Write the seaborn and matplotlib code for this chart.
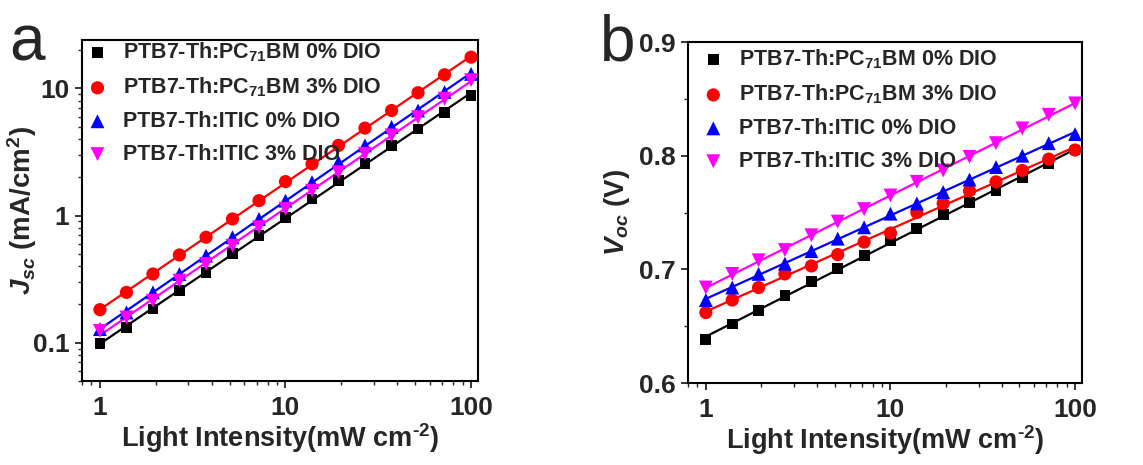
import numpy as np
import pandas as pd
import matplotlib
matplotlib.use('Agg')
import matplotlib.pyplot as plt
import seaborn as sns
from matplotlib.ticker import FixedLocator, FixedFormatter, LogLocator, MultipleLocator, NullFormatter

# light intensity (mW cm-2), same for every device
intensity = [1, 1.39, 1.93, 2.68, 3.73, 5.18, 7.2, 10, 13.9, 19.3, 26.8, 37.3, 51.8, 72, 100]

# Jsc (mA/cm2)
jsc_pc_0 = [0.098, 0.132, 0.184, 0.257, 0.358, 0.50, 0.70, 0.97, 1.35, 1.89, 2.55, 3.56, 4.8, 6.5, 8.8]
jsc_pc_3 = [0.182, 0.249, 0.347, 0.49, 0.675, 0.94, 1.31, 1.85, 2.55, 3.56, 4.87, 6.7, 9.25, 12.8, 17.6]
jsc_itic_0 = [0.128, 0.173, 0.249, 0.347, 0.484, 0.675, 0.94, 1.31, 1.83, 2.63, 3.56, 4.97, 6.7, 9.35, 13.0]
jsc_itic_3 = [0.124, 0.158, 0.214, 0.308, 0.417, 0.58, 0.81, 1.13, 1.57, 2.19, 3.06, 4.27, 5.94, 8.3, 11.6]

# Voc (V)
voc_pc_0 = [0.638, 0.652, 0.664, 0.677, 0.689, 0.701, 0.712, 0.725, 0.736, 0.748, 0.759, 0.769, 0.781, 0.793, 0.805]
voc_pc_3 = [0.662, 0.673, 0.684, 0.696, 0.703, 0.713, 0.724, 0.732, 0.750, 0.758, 0.769, 0.777, 0.787, 0.797, 0.805]
voc_itic_0 = [0.673, 0.684, 0.696, 0.705, 0.716, 0.727, 0.737, 0.749, 0.758, 0.768, 0.779, 0.790, 0.800, 0.811, 0.819]
voc_itic_3 = [0.684, 0.696, 0.708, 0.717, 0.730, 0.742, 0.753, 0.765, 0.777, 0.787, 0.799, 0.811, 0.824, 0.836, 0.846]

labels = [r'PTB7-Th:PC$_{71}$BM 0% DIO',
          r'PTB7-Th:PC$_{71}$BM 3% DIO',
          'PTB7-Th:ITIC 0% DIO',
          'PTB7-Th:ITIC 3% DIO']
colors = ['black', '#ff0000', '#0000ff', '#ff00ff']
markers = ['s', 'o', '^', 'v']
msizes = [60, 90, 100, 100]

jsc_ticks = [0.1, 1, 10]
jsc_ticklabels = ['0.1', '1', '10']
x_ticks = [1, 10, 100]
x_ticklabels = ['1', '10', '100']
voc_ticks = [0.6, 0.7, 0.8, 0.9]
voc_ticklabels = ['0.6', '0.7', '0.8', '0.9']

sns.set_style('ticks')
plt.rcParams['font.family'] = ['Liberation Sans', 'DejaVu Sans']
plt.rcParams['font.weight'] = 'bold'
plt.rcParams['mathtext.fontset'] = 'custom'
plt.rcParams['mathtext.rm'] = 'Liberation Sans:bold'
plt.rcParams['mathtext.bf'] = 'Liberation Sans:bold'
plt.rcParams['mathtext.it'] = 'Liberation Sans:italic:bold'
plt.rcParams['mathtext.default'] = 'bf'

fig = plt.figure(figsize=(11.43, 4.65), dpi=100)
ax1 = fig.add_axes([0.0717, 0.1806, 0.3465, 0.7333])
ax2 = fig.add_axes([0.6019, 0.1763, 0.3447, 0.7333])


def draw(ax, series, loglog):
    lx = np.log10(intensity)
    for ys, lab, c, m, s in zip(series, labels, colors, markers, msizes):
        ys = np.array(ys)
        if loglog:
            k, b = np.polyfit(lx, np.log10(ys), 1)
            fit = 10 ** (k * lx + b)
        else:
            k, b = np.polyfit(lx, ys, 1)
            fit = k * lx + b
        df = pd.DataFrame({'x': intensity, 'y': ys, 'fit': fit})
        sns.lineplot(data=df, x='x', y='fit', ax=ax, color=c, lw=1.6, legend=False)
        sns.scatterplot(data=df, x='x', y='y', ax=ax, color=c, marker=m, s=s,
                        edgecolor='none', label=lab, zorder=3)
    ax.set_xscale('log')
    ax.set_xlim(0.8, 109)
    ax.xaxis.set_major_locator(FixedLocator(x_ticks))
    ax.xaxis.set_major_formatter(FixedFormatter(x_ticklabels))
    ax.xaxis.set_minor_locator(LogLocator(base=10, subs=np.arange(2, 10)))
    ax.xaxis.set_minor_formatter(NullFormatter())
    ax.set_xlabel(r'Light Intensity(mW cm$^{\text{-2}}$)', fontsize=19.5, fontweight='bold', labelpad=1)
    ax.tick_params(axis='both', which='major', direction='out', length=5, width=1.3,
                   labelsize=19, pad=4, top=False, right=False)
    ax.tick_params(axis='both', which='minor', direction='out', length=3, width=1.0,
                   top=False, right=False)
    ax.tick_params(axis='x', which='major', pad=6)
    for sp in ax.spines.values():
        sp.set_linewidth(1.5)
        sp.set_color('black')
    for t in ax.get_xticklabels() + ax.get_yticklabels():
        t.set_fontweight('bold')


draw(ax1, [jsc_pc_0, jsc_pc_3, jsc_itic_0, jsc_itic_3], True)
ax1.set_yscale('log')
ax1.set_ylim(0.05, 24)
ax1.yaxis.set_major_locator(FixedLocator(jsc_ticks))
ax1.yaxis.set_major_formatter(FixedFormatter(jsc_ticklabels))
ax1.yaxis.set_minor_locator(LogLocator(base=10, subs=np.arange(2, 10)))
ax1.yaxis.set_minor_formatter(NullFormatter())
ax1.set_ylabel(r'$\mathit{J}_{\mathit{sc}}$ (mA/cm$^{\mathbf{2}}$)', fontsize=20, fontweight='bold')
ax1.yaxis.set_label_coords(-0.108, 0.5)
for t in ax1.get_yticklabels():
    t.set_fontweight('bold')
ax1.legend(loc='upper left', bbox_to_anchor=(0.012, 1.0), frameon=False, fontsize=15.5,
           handletextpad=0.7, handlelength=1.0, labelspacing=0.55, borderaxespad=0, borderpad=0)

draw(ax2, [voc_pc_0, voc_pc_3, voc_itic_0, voc_itic_3], False)
ax2.set_ylim(0.6, 0.9)
ax2.yaxis.set_major_locator(FixedLocator(voc_ticks))
ax2.yaxis.set_major_formatter(FixedFormatter(voc_ticklabels))
ax2.yaxis.set_minor_locator(MultipleLocator(0.05))
ax2.set_ylabel(r'$\mathit{V}_{\mathit{oc}}$ (V)', fontsize=20, fontweight='bold')
ax2.yaxis.set_label_coords(-0.142, 0.5)
for t in ax2.get_yticklabels():
    t.set_fontweight('bold')
ax2.legend(loc='upper left', bbox_to_anchor=(0.037, 0.985), frameon=False, fontsize=15.5,
           handletextpad=0.7, handlelength=1.0, labelspacing=0.55, borderaxespad=0, borderpad=0)

fig.text(0.008, 0.87, 'a', fontsize=46, fontweight='normal')
fig.text(0.525, 0.87, 'b', fontsize=46, fontweight='normal')

fig.savefig('out.png', dpi=100)
